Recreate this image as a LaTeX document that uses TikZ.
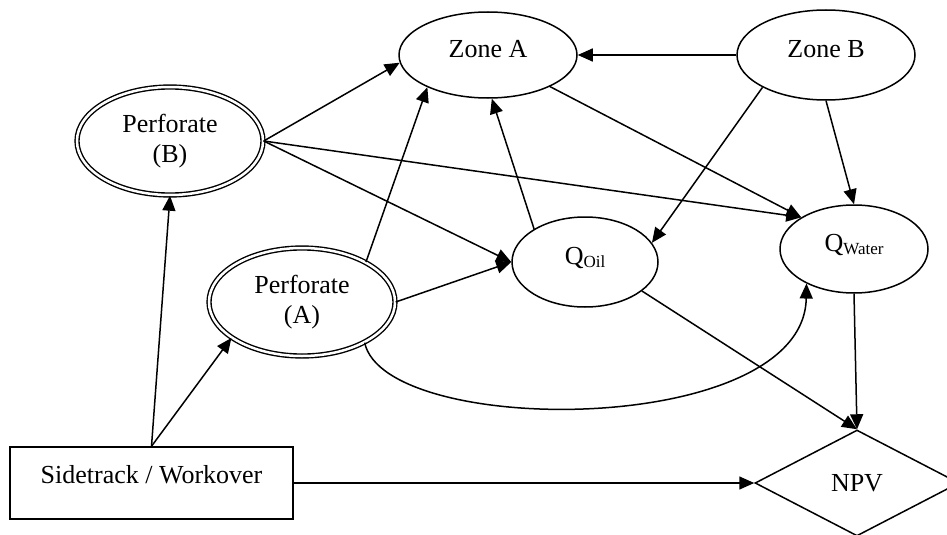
\documentclass[tikz,border=0pt]{standalone}
\usepackage{fontspec}
\setmainfont{Liberation Serif}
\usetikzlibrary{arrows.meta,shapes.geometric}
\newcommand\subtxt[1]{{\fontsize{17}{17}\selectfont\raisebox{-3pt}{#1}}}
\begin{document}
\begin{tikzpicture}[x=1pt,y=-1pt,line width=1.5pt,
  every node/.style={font=\fontsize{26}{30}\selectfont},
  oval/.style={ellipse,draw,inner sep=0pt,text height=18pt,text depth=14pt},
  perf/.style={ellipse,draw,double,double distance=2.5pt,line width=1.4pt,
    inner sep=0pt,align=center,minimum width=186pt,minimum height=108pt},
  box/.style={rectangle,draw,inner sep=0pt,text height=18pt,text depth=18pt},
  decision/.style={diamond,draw,inner sep=0pt},
  link/.style={-{Triangle[length=15pt,width=13pt]},line width=1.5pt}]
\useasboundingbox (0,0) rectangle (947,535);
\clip (0,0) rectangle (947,535);

% nodes
\node[oval,minimum width=178pt,minimum height=86pt] (za) at (488,55) {Zone A};
\node[oval,minimum width=178pt,minimum height=90pt] (zb) at (826,55) {Zone B};
\node[perf] (pb) at (170,141) {Perforate\\(B)};
\node[perf] (pa) at (302,302) {Perforate\\(A)};
\node[oval,minimum width=146pt,minimum height=90pt] (qo) at (585,262) {Q\subtxt{Oil}};
\node[oval,minimum width=148pt,minimum height=88pt] (qw) at (854,249) {Q\subtxt{Water}};
\node[box,minimum width=283pt,minimum height=72pt] (sw) at (151.5,483) {Sidetrack / Workover};
\node[decision,minimum width=204pt,minimum height=106pt] (npv) at (857,483) {NPV};

% connectors
\draw[link] (sw.north) -- (pb.south);
\draw[link] (sw.north) -- (pa.207);
\draw[link] (sw.east) -- (npv.west);
\draw[link] (pb.east) -- (za.185);
\draw[link] (pb.east) -- (qw.149);
\draw[link] (pb.east) -- (qo.west);
\draw[link] (pa.32) -- (za.208);
\draw[link] (pa.east) -- (qo.west);
\draw[link] (pa.-33) .. controls (385,438) and (804,438) .. (qw.216);
\draw[link] (zb.west) -- (za.east);
\draw[link] (zb.207) -- (qo.16);
\draw[link] (zb.south) -- (qw.north);
\draw[link] (za.-27) -- (qw.149);
\draw[link] (qo.147) -- (za.-85);
\draw[link] (qo.-27) -- (npv.north);
\draw[link] (qw.south) -- (npv.north);
\end{tikzpicture}
\end{document}
